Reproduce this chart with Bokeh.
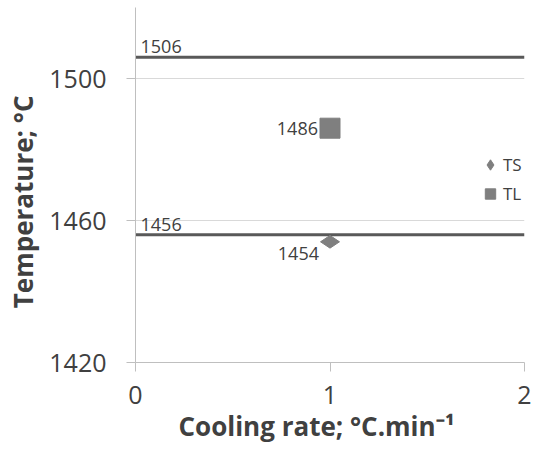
from bokeh.plotting import figure
from bokeh.models import ColumnDataSource, FixedTicker, Range1d, Legend, LegendItem
from bokeh.core.properties import value
from bokeh.embed import file_html
from bokeh.resources import INLINE
import math

# Data
series_names = ["TS", "TL"]
cooling_rate = [1, 1]
ts_values = [1454]
tl_values = [1486]
ref_lines = [1506, 1456]
x_ticks = [0, 1, 2]
y_ticks = [1420, 1460, 1500]

FONT = "Open Sans"
MARK = "#7f7f7f"
LINE = "#595959"
TXT = "#404040"
NB = "\u00a0"

p = figure(width=531, height=446, output_backend="svg", toolbar_location=None,
           x_range=Range1d(0, 2), y_range=Range1d(1420, 1520),
           min_border_left=135, min_border_right=7, min_border_top=7, min_border_bottom=81)
p.outline_line_color = None
p.background_fill_color = "white"
p.border_fill_color = "white"

# reference lines
for v in ref_lines:
    p.line(x=[x_ticks[0], x_ticks[-1]], y=[v, v], line_color=LINE, line_width=3)

ts_src = ColumnDataSource(dict(x=cooling_rate[:1], y=ts_values, lab=[str(v) for v in ts_values]))
tl_src = ColumnDataSource(dict(x=cooling_rate[1:], y=tl_values, lab=[str(v) for v in tl_values]))
rl_src = ColumnDataSource(dict(x=[x_ticks[0]] * len(ref_lines), y=ref_lines, lab=[str(v) for v in ref_lines]))

r_ts = p.scatter(x="x", y="y", source=ts_src, marker="diamond", angle=math.pi / 2,
                 size=19, fill_color=MARK, line_color=MARK)
r_tl = p.scatter(x="x", y="y", source=tl_src, marker="square", size=20,
                 fill_color=MARK, line_color=MARK)

p.text(x="x", y="y", text="lab", source=tl_src, text_align="right", text_baseline="middle",
       x_offset=-12, y_offset=0, text_font=value(FONT), text_font_size="18px", text_color=TXT)
p.text(x="x", y="y", text="lab", source=ts_src, text_align="right", text_baseline="middle",
       x_offset=-11, y_offset=12, text_font=value(FONT), text_font_size="18px", text_color=TXT)
p.text(x="x", y="y", text="lab", source=rl_src, text_align="left", text_baseline="bottom",
       x_offset=5, y_offset=-4, text_font=value(FONT), text_font_size="18px", text_color=TXT)

# axes
p.xaxis.ticker = FixedTicker(ticks=x_ticks)
p.yaxis.ticker = FixedTicker(ticks=y_ticks)
for ax in (p.xaxis, p.yaxis):
    ax.axis_line_color = "#bfbfbf"
    ax.axis_line_width = 1
    ax.major_tick_line_color = "#bfbfbf"
    ax.major_tick_out = 9
    ax.major_tick_in = 0
    ax.minor_tick_line_color = None
    ax.major_label_text_font = FONT
    ax.major_label_text_font_size = "25px"
    ax.major_label_text_color = TXT
    ax.axis_label_text_font = FONT
    ax.axis_label_text_font_style = "bold"
    ax.axis_label_text_font_size = "26px"
    ax.axis_label_text_color = TXT
p.yaxis.major_label_standoff = 20
p.xaxis.major_label_standoff = 14
p.yaxis.axis_label = "Temperature; °C" + NB * 5
p.xaxis.axis_label = "Cooling rate; °C.min⁻¹" + NB * 4
p.yaxis.axis_label_standoff = 5
p.xaxis.axis_label_standoff = 1

p.xgrid.grid_line_color = None
p.ygrid.ticker = FixedTicker(ticks=y_ticks[1:])
p.ygrid.grid_line_color = "#d9d9d9"

legend = Legend(items=[LegendItem(label=series_names[0], renderers=[r_ts]),
                       LegendItem(label=series_names[1], renderers=[r_tl])],
                location=(342, 154), border_line_color=None, background_fill_alpha=0,
                label_text_font=FONT, label_text_font_size="17px", label_text_color=TXT,
                glyph_width=26, glyph_height=29, spacing=0, label_standoff=0, padding=0, margin=0)
p.add_layout(legend)

open("out.html", "w").write(file_html(p, INLINE))
